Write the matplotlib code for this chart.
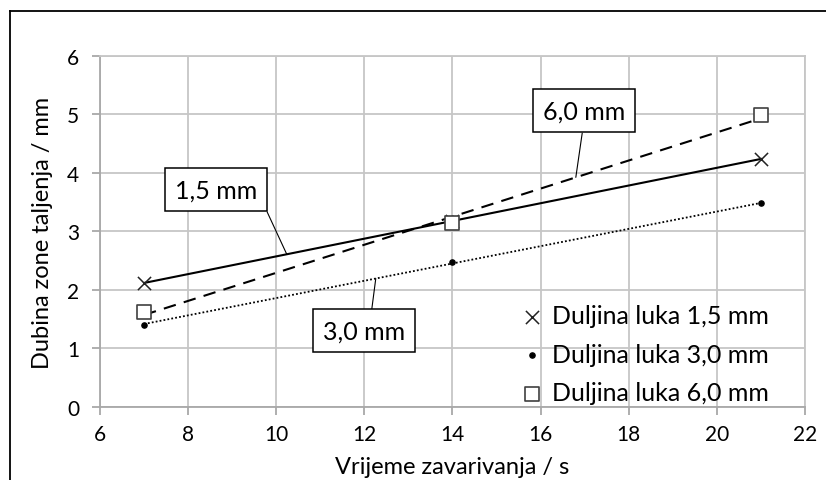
import numpy as np
import matplotlib
matplotlib.use("Agg")
import matplotlib.pyplot as plt
from matplotlib.lines import Line2D

plt.rcParams['font.family'] = ['Lato', 'DejaVu Sans']

# weld time (s) and penetration depth (mm) per arc length
vrijeme = [7, 14, 21]
dubina_15 = [2.12, 3.18, 4.24]
dubina_30 = [1.41, 2.47, 3.48]
dubina_60 = [1.63, 3.14, 4.99]

legend_labels = ["Duljina luka 1,5 mm", "Duljina luka 3,0 mm", "Duljina luka 6,0 mm"]
box_labels = ["1,5 mm", "3,0 mm", "6,0 mm"]

x_ticks = [6, 8, 10, 12, 14, 16, 18, 20, 22]
y_ticks = [0, 1, 2, 3, 4, 5, 6]

grid_col = "#c6c6c6"

fig = plt.figure(figsize=(8.26, 4.81), dpi=100)
ax = fig.add_axes([0.121, 0.1518, 0.8535, 0.7297])

x = np.array(vrijeme, dtype=float)
fits = []
for ys in (dubina_15, dubina_30, dubina_60):
    fits.append(np.polyfit(x, ys, 1))

xl = np.array([min(vrijeme), max(vrijeme)], dtype=float)
# trend lines
ax.plot(xl, np.polyval(fits[0], xl), color="black", lw=1.5, ls="-", zorder=3)
ax.plot(xl, np.polyval(fits[1], xl), color="black", lw=1.3, ls=(0, (1, 1.2)), zorder=3)
ax.plot(xl, np.polyval(fits[2], xl), color="black", lw=1.5, ls=(0, (6, 4)), zorder=3)

# measured points
h1 = ax.scatter(vrijeme, dubina_15, marker="x", s=90, color="#222222", linewidths=1.1, zorder=4,
                label=legend_labels[0])
h2 = ax.scatter(vrijeme, dubina_30, marker="o", s=14, color="black", zorder=4,
                label=legend_labels[1])
h3 = ax.scatter(vrijeme, dubina_60, marker="s", s=110, facecolors="white", edgecolors="#404040",
                linewidths=1.2, zorder=4, label=legend_labels[2])

ax.set_xlim(6, 22)
ax.set_ylim(0, 6)
ax.set_xticks(x_ticks)
ax.set_yticks(y_ticks)
ax.grid(True, color=grid_col, lw=1.3)
ax.set_axisbelow(True)
for s in ax.spines.values():
    s.set_color(grid_col)
    s.set_linewidth(1.3)
ax.spines['bottom'].set_color("#a8a8a8")
ax.spines['left'].set_color("#a8a8a8")
ax.tick_params(axis="both", colors="#a8a8a8", width=1.3, length=6, labelcolor="black",
               labelsize=15)
ax.tick_params(axis="x", pad=6)
ax.tick_params(axis="y", pad=9)

ax.set_xlabel("Vrijeme zavarivanja / s", fontsize=17, labelpad=9)
ax.set_ylabel("Dubina zone taljenja / mm", fontsize=17, labelpad=10)

ax.legend(handles=[h1, h2, h3], loc="lower left", bbox_to_anchor=(0.585, -0.014), frameon=False,
          fontsize=18, handlelength=1.0, handletextpad=0.3, labelspacing=0.62,
          borderaxespad=0.1, borderpad=0.2)

# callout boxes with leader lines
box = dict(boxstyle="square,pad=0.4", fc="white", ec="black", lw=1.1)
ann = [
    (0, 10.24, (8.63, 3.71), (1.0, 0.5)),
    (1, 12.26, (11.99, 1.30), (0.58, 1.0)),
    (2, 16.8, (16.98, 5.06), (0.5, 0.0)),
]
for i, xa, txt_pos, rel in ann:
    ya = np.polyval(fits[i], xa)
    ax.annotate(box_labels[i], xy=(xa, ya), xytext=txt_pos, fontsize=18,
                ha="center", va="center", bbox=box, zorder=5,
                arrowprops=dict(arrowstyle="-", color="black", lw=0.8, relpos=rel,
                                shrinkA=0, shrinkB=0))

# outer frame (left and top edges)
fig.add_artist(Line2D([0.0121, 0.0121], [0.0, 0.975], transform=fig.transFigure, color="black", lw=1.3))
fig.add_artist(Line2D([0.0121, 1.0], [0.975, 0.975], transform=fig.transFigure, color="black", lw=1.3))

fig.savefig("out.png", dpi=100)
